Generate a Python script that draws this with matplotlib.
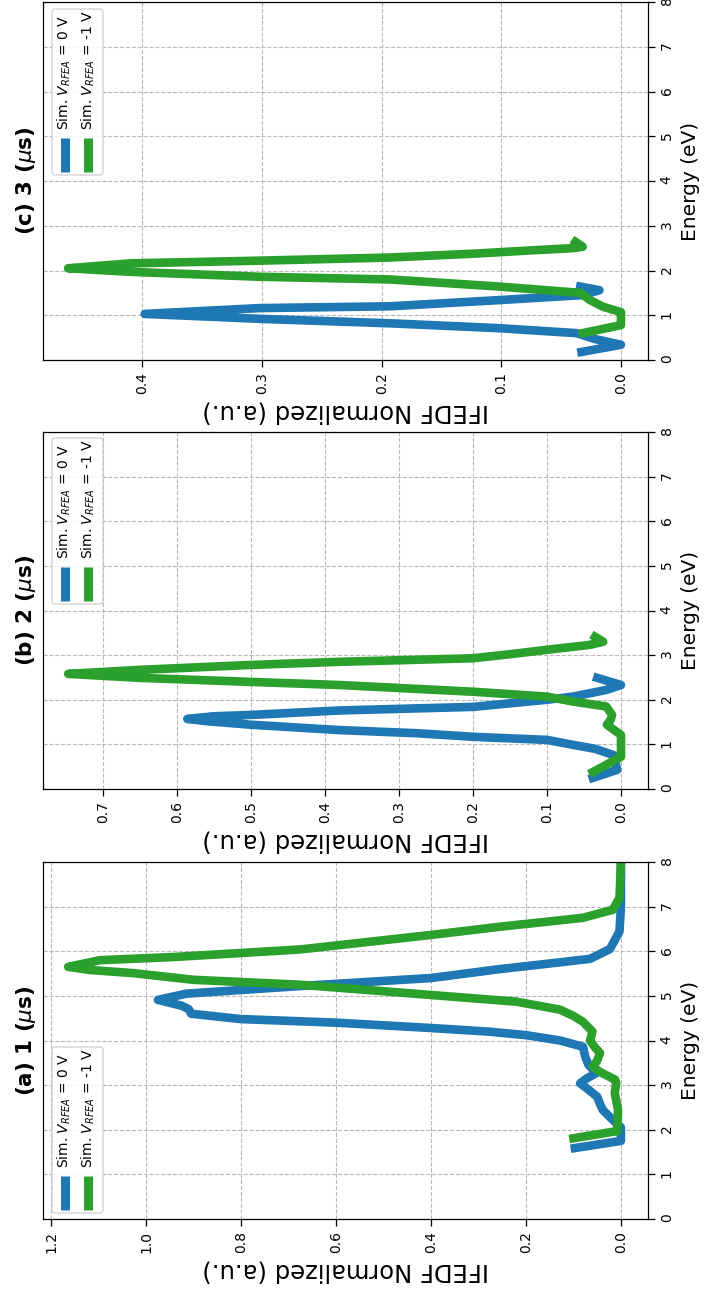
import matplotlib
matplotlib.use('Agg')
import matplotlib.pyplot as plt
from matplotlib.patches import FancyBboxPatch
from matplotlib.lines import Line2D

plt.rcParams['font.family'] = ['DejaVu Sans']
plt.rcParams['mathtext.fontset'] = 'dejavusans'

# ---------------- data ----------------
titles = ['(a) 1 ($\\mu$s)', '(b) 2 ($\\mu$s)', '(c) 3 ($\\mu$s)']
series_labels = ['Sim. $V_{RFEA}$ = 0 V', 'Sim. $V_{RFEA}$ = -1 V']
colors = ['#1f77b4', '#2ca02c']
energy_ticks = [0, 1, 2, 3, 4, 5, 6, 7, 8]

# panel (a) 1 us
a_E0 = [1.59, 1.75, 2.05, 2.22, 2.44, 2.60, 2.74, 2.93, 3.04, 3.15, 3.27, 3.45, 3.63,
        3.86, 4.00, 4.12, 4.20, 4.28, 4.40, 4.48, 4.60, 4.70, 4.78, 4.91, 5.05, 5.22,
        5.40, 5.60, 5.75, 5.83, 6.05, 6.45, 7.00, 8.00]
a_I0 = [0.097, 0.000, 0.000, 0.017, 0.038, 0.045, 0.050, 0.072, 0.086, 0.072, 0.052,
        0.068, 0.075, 0.080, 0.128, 0.200, 0.280, 0.400, 0.600, 0.800, 0.905, 0.910,
        0.925, 0.975, 0.915, 0.676, 0.400, 0.255, 0.130, 0.065, 0.023, 0.003, 0.000,
        0.000]
a_E1 = [1.81, 1.97, 2.44, 2.82, 3.05, 3.12, 3.18, 3.30, 3.41, 3.55, 3.72, 3.85, 4.00,
        4.20, 4.42, 4.55, 4.69, 4.87, 5.02, 5.25, 5.36, 5.51, 5.58, 5.65, 5.80, 5.87,
        6.04, 6.37, 6.55, 6.68, 6.75, 6.93, 7.20, 8.00]
a_I1 = [0.100, 0.008, 0.006, 0.013, 0.010, 0.012, 0.023, 0.045, 0.059, 0.050, 0.044,
        0.055, 0.065, 0.060, 0.080, 0.100, 0.128, 0.220, 0.400, 0.676, 0.900, 1.027,
        1.118, 1.164, 1.097, 0.943, 0.676, 0.396, 0.255, 0.140, 0.080, 0.017, 0.003,
        0.000]

# panel (b) 2 us
b_E0 = [0.25, 0.43, 0.76, 0.90, 0.99, 1.10, 1.17, 1.25, 1.32, 1.44, 1.52, 1.57, 1.63,
        1.66, 1.76, 1.84, 1.92, 2.00, 2.07, 2.22, 2.33, 2.49]
b_I0 = [0.038, 0.005, 0.010, 0.035, 0.065, 0.100, 0.200, 0.276, 0.380, 0.500, 0.560,
        0.586, 0.550, 0.500, 0.380, 0.200, 0.150, 0.100, 0.065, 0.020, 0.000, 0.032]
b_E1 = [0.38, 0.47, 0.72, 1.21, 1.44, 1.55, 1.66, 1.85, 1.96, 2.07, 2.18, 2.33, 2.40,
        2.49, 2.58, 2.67, 2.78, 2.85, 2.93, 3.02, 3.12, 3.23, 3.30, 3.41]
b_I1 = [0.038, 0.028, 0.000, 0.000, 0.019, 0.014, 0.012, 0.020, 0.065, 0.100, 0.200,
        0.380, 0.500, 0.650, 0.747, 0.650, 0.500, 0.380, 0.200, 0.150, 0.100, 0.042,
        0.024, 0.035]

# panel (c) 3 us
c_E0 = [0.18, 0.34, 0.47, 0.60, 0.71, 0.82, 0.92, 1.03, 1.16, 1.20, 1.34, 1.45, 1.56, 1.64]
c_I0 = [0.033, 0.000, 0.022, 0.037, 0.101, 0.193, 0.302, 0.398, 0.302, 0.193, 0.101,
        0.032, 0.018, 0.034]
c_E1 = [0.60, 0.78, 1.07, 1.19, 1.34, 1.50, 1.64, 1.80, 1.86, 1.97, 2.05, 2.16, 2.22,
        2.29, 2.38, 2.45, 2.50, 2.53, 2.64]
c_I1 = [0.032, 0.000, 0.000, 0.015, 0.026, 0.034, 0.101, 0.193, 0.302, 0.410, 0.462,
        0.410, 0.302, 0.193, 0.120, 0.075, 0.040, 0.032, 0.038]

ifedf_ticks = [[0.0, 0.2, 0.4, 0.6, 0.8, 1.0, 1.2],
               [0.0, 0.1, 0.2, 0.3, 0.4, 0.5, 0.6, 0.7],
               [0.0, 0.1, 0.2, 0.3, 0.4]]
ifedf_lims = [(1.217, -0.057), (0.781, -0.0365), (0.483, -0.0226)]

panels = [((a_E0, a_I0), (a_E1, a_I1)),
          ((b_E0, b_I0), (b_E1, b_I1)),
          ((c_E0, c_I0), (c_E1, c_I1))]

# ---------------- layout (pixels) ----------------
W, H = 704, 1289
ax_left, ax_right = 43, 648
panel_tb = [(862, 1219), (432, 789), (2, 360)]   # (top, bottom) image px
legend_bottom = [6, 185, 185]                     # px above axes bottom

fig = plt.figure(figsize=(W / 100, H / 100), dpi=100)

for k in range(3):
    top, bot = panel_tb[k]
    aw, ah = ax_right - ax_left, bot - top
    ax = fig.add_axes([ax_left / W, 1 - bot / H, aw / W, ah / H])

    for (E, I), c in zip(panels[k], colors):
        ax.plot(I, E, color=c, lw=6.2, solid_joinstyle='round')

    ax.set_xlim(*ifedf_lims[k])
    ax.set_ylim(0, 8)
    ax.set_xticks(ifedf_ticks[k])
    ax.set_xticklabels(['%.1f' % t for t in ifedf_ticks[k]])
    ax.set_yticks(energy_ticks)
    ax.yaxis.tick_right()
    ax.yaxis.set_label_position('right')
    ax.tick_params(axis='both', labelsize=10, length=5, width=0.9)
    ax.tick_params(axis='x', labelrotation=90)
    ax.tick_params(axis='y', labelrotation=90)
    ax.grid(True, linestyle='--', color='#b8b8b8', lw=0.8)
    for s in ax.spines.values():
        s.set_linewidth(0.9)

    ax.set_ylabel('Energy (eV)', fontsize=14.5)
    ax.yaxis.set_label_coords(1.054, 0.5)
    ax.set_xlabel('IFEDF Normalized (a.u.)', fontsize=17.5, rotation=180)
    ax.xaxis.set_label_coords(0.5, -0.11)
    ax.xaxis.label.set_va('top')

    ax.text(-17 / aw, 0.5, titles[k], rotation=90, transform=ax.transAxes,
            ha='center', va='center', fontsize=15.5, fontweight='bold')

    # manual (rotated) legend
    lb = legend_bottom[k]
    box = FancyBboxPatch((9 / aw, lb / ah), 51 / aw, 166 / ah,
                         boxstyle='round,pad=0,rounding_size=%f' % (3 / aw),
                         mutation_aspect=aw / ah, transform=ax.transAxes,
                         facecolor='white', edgecolor='#cccccc', lw=1.0,
                         alpha=0.85, zorder=5)
    ax.add_patch(box)
    for j, (lab, c) in enumerate(zip(series_labels, colors)):
        xc = (21.5 + 23.5 * j) / aw
        ax.add_line(Line2D([xc, xc], [(lb + 3) / ah, (lb + 37) / ah], color=c,
                           lw=6.5, solid_capstyle='butt', transform=ax.transAxes,
                           zorder=6))
        ax.text(xc, (lb + 45) / ah, lab, rotation=90, transform=ax.transAxes,
                ha='center', va='bottom', fontsize=10, zorder=6)

fig.savefig('out.png', dpi=100)
